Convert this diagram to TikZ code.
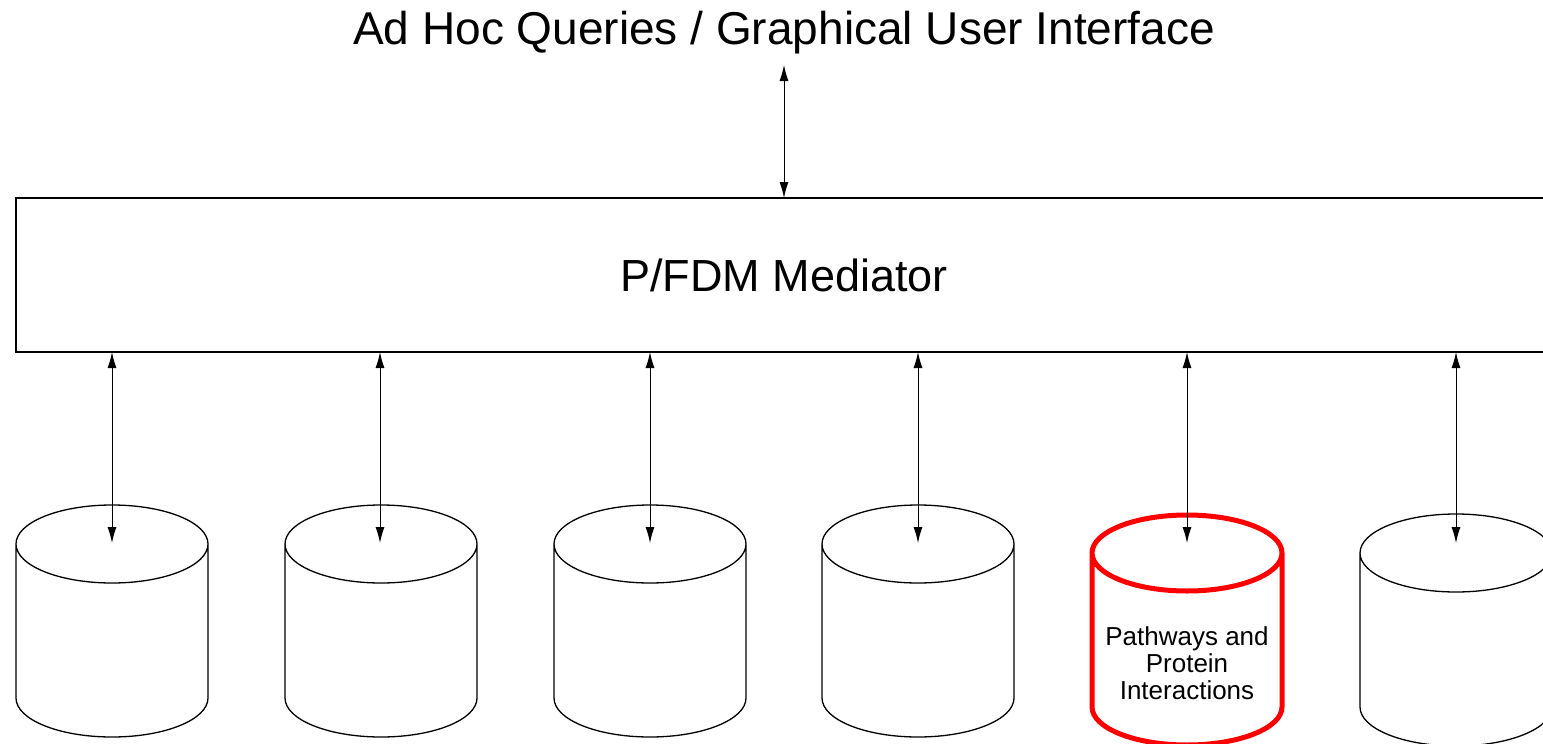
\documentclass[tikz,border=0pt]{standalone}
\usepackage{fontspec}
\setmainfont{Liberation Sans}
\usetikzlibrary{arrows.meta,positioning}

\tikzset{
  link/.style={{Latex[length=16pt,width=9pt]}-{Latex[length=16pt,width=9pt]}, line width=1pt},
  dbline/.style={line width=1.3pt},
  hilite/.style={draw=red, line width=5pt},
  bigtext/.style={font=\fontsize{46}{52}\selectfont}
}

\begin{document}
\begin{tikzpicture}[x=1pt,y=-1pt]
\useasboundingbox (0,0) rectangle (1543,744);
\clip (0,0) rectangle (1543,744);
    % Interface on top
    \node[bigtext, anchor=base] (gui) at (784,45) {Ad Hoc Queries / Graphical User Interface};
    \coordinate (guiend) at (784,65);
    % Mediator box, runs off the right edge
    \node[draw, dbline, font=\fontsize{45}{50}\selectfont, outer sep=0pt, anchor=north west,
          minimum width=1536pt, minimum height=154pt] (med) at (16,198) {P/FDM Mediator};
    \draw[link] (guiend) -- (med.north);
    % Sources
    \foreach \x/\y in {112/544,381/544,650/544,918/544,1456/553}
        \draw[dbline] (\x-96,\y) -- (\x-96,\y+154)
            arc[start angle=180, end angle=0, x radius=96, y radius=39] -- (\x+96,\y)
            (\x,\y) ellipse[x radius=96, y radius=39];
    \draw[hilite] (1187-95,553) -- (1187-95,707)
        arc[start angle=180, end angle=0, x radius=95, y radius=38] -- (1187+95,553)
        (1187,553) ellipse[x radius=95, y radius=38];
    \node[font=\fontsize{26}{27}\selectfont, align=center] (pw) at (1187,663) {Pathways and\\Protein\\Interactions};
    % Links from mediator down to the sources
    \foreach \x [count=\i] in {112,380,650,918,1187,1456} {
        \coordinate (db\i) at (\x,543);
        \draw[link] (med.south -| db\i) -- (db\i);
    }
\end{tikzpicture}
\end{document}
